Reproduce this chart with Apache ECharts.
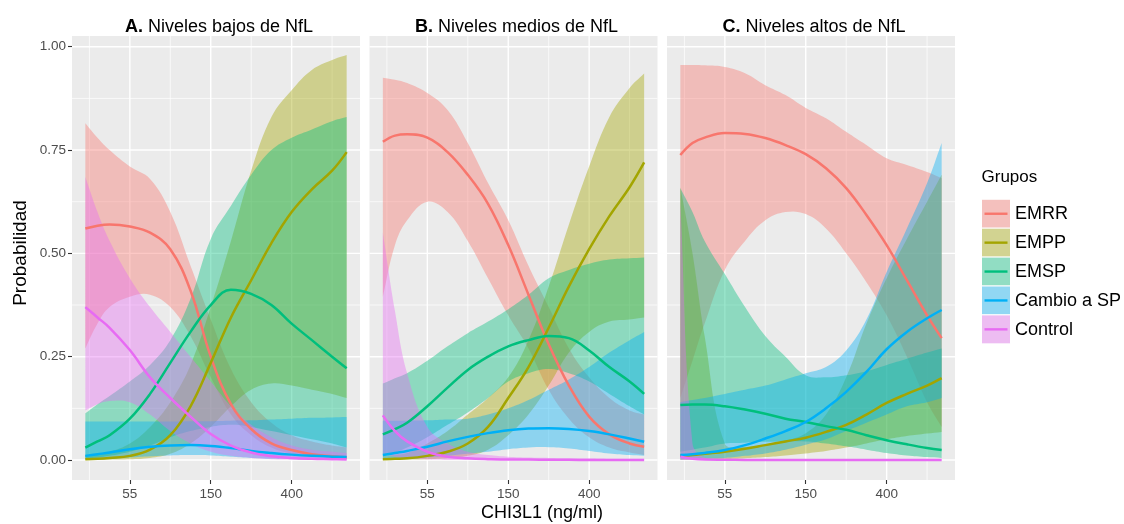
<!DOCTYPE html>
<html>
<head>
<meta charset="utf-8">
<script src="https://cdn.jsdelivr.net/npm/echarts@6/dist/echarts.min.js"></script>
<style>
  html, body { margin: 0; padding: 0; background: #ffffff; }
  #chart { width: 1124px; height: 524px; }
</style>
</head>
<body>
<div id="chart"></div>
<script>
// Natural log of CHI3L1 (ng/ml) where the fitted probabilities are evaluated
const logChi = [3.45, 3.6, 3.75, 4.0, 4.25, 4.5, 4.75, 5.0, 5.25, 5.5, 5.75, 6.0, 6.25, 6.5, 6.68];

// Axis ticks (x ticks sit at log values, labelled in ng/ml)
const xTickValues = [4, 5, 6];
const xTickLabels = ['55', '150', '400'];
const yTickValues = [0, 0.25, 0.5, 0.75, 1];

const groups = ['EMRR', 'EMPP', 'EMSP', 'Cambio a SP', 'Control'];
const groupColors = ['#F8766D', '#A3A500', '#00BF7D', '#00B0F6', '#E76BF3'];
const panelTitles = [['A.', 'Niveles bajos de NfL'], ['B.', 'Niveles medios de NfL'], ['C.', 'Niveles altos de NfL']];

// ---- A. low NfL: fitted probability, lower and upper band ----
const fitA_EMRR = [0.56, 0.567, 0.57, 0.565, 0.55, 0.51, 0.41, 0.25, 0.135, 0.075, 0.04, 0.024, 0.014, 0.009, 0.006];
const loA_EMRR  = [0.27, 0.33, 0.37, 0.395, 0.40, 0.37, 0.30, 0.20, 0.11, 0.06, 0.03, 0.015, 0.008, 0.004, 0.002];
const hiA_EMRR  = [0.815, 0.78, 0.75, 0.71, 0.68, 0.60, 0.47, 0.34, 0.22, 0.14, 0.09, 0.06, 0.045, 0.035, 0.03];
const fitA_EMPP = [0.002, 0.003, 0.005, 0.01, 0.025, 0.06, 0.13, 0.235, 0.345, 0.435, 0.525, 0.60, 0.655, 0.70, 0.745];
const loA_EMPP  = [0, 0, 0.001, 0.002, 0.005, 0.015, 0.04, 0.08, 0.13, 0.17, 0.185, 0.18, 0.17, 0.16, 0.15];
const hiA_EMPP  = [0.012, 0.014, 0.02, 0.04, 0.08, 0.14, 0.23, 0.37, 0.53, 0.70, 0.83, 0.895, 0.944, 0.968, 0.98];
const fitA_EMSP = [0.03, 0.045, 0.06, 0.10, 0.16, 0.235, 0.31, 0.375, 0.412, 0.402, 0.375, 0.33, 0.29, 0.25, 0.222];
const loA_EMSP  = [0.003, 0.006, 0.01, 0.02, 0.035, 0.055, 0.07, 0.08, 0.085, 0.08, 0.07, 0.06, 0.05, 0.04, 0.03];
const hiA_EMSP  = [0.113, 0.135, 0.155, 0.19, 0.23, 0.29, 0.39, 0.535, 0.615, 0.69, 0.75, 0.78, 0.80, 0.82, 0.83];
const fitA_SP   = [0.01, 0.014, 0.018, 0.026, 0.032, 0.035, 0.036, 0.034, 0.029, 0.022, 0.017, 0.013, 0.01, 0.008, 0.007];
const loA_SP    = [0.001, 0.002, 0.003, 0.006, 0.009, 0.011, 0.012, 0.011, 0.008, 0.005, 0.003, 0.002, 0.001, 0.001, 0.001];
const hiA_SP    = [0.093, 0.093, 0.093, 0.093, 0.093, 0.093, 0.094, 0.094, 0.095, 0.096, 0.098, 0.1, 0.102, 0.103, 0.104];
const fitA_Ctrl = [0.37, 0.345, 0.32, 0.266, 0.20, 0.15, 0.105, 0.063, 0.035, 0.018, 0.009, 0.005, 0.003, 0.002, 0.001];
const loA_Ctrl  = [0.12, 0.135, 0.143, 0.14, 0.11, 0.07, 0.04, 0.02, 0.01, 0.005, 0.002, 0.001, 0, 0, 0];
const hiA_Ctrl  = [0.685, 0.6, 0.53, 0.44, 0.37, 0.31, 0.25, 0.19, 0.13, 0.085, 0.055, 0.035, 0.025, 0.02, 0.017];

// ---- B. medium NfL ----
const fitB_EMRR = [0.77, 0.785, 0.788, 0.78, 0.745, 0.69, 0.62, 0.52, 0.40, 0.28, 0.18, 0.105, 0.062, 0.04, 0.032];
const loB_EMRR  = [0.395, 0.52, 0.58, 0.625, 0.60, 0.53, 0.44, 0.35, 0.27, 0.17, 0.10, 0.055, 0.03, 0.018, 0.012];
const hiB_EMRR  = [0.925, 0.92, 0.912, 0.888, 0.847, 0.767, 0.67, 0.58, 0.47, 0.37, 0.27, 0.2, 0.15, 0.12, 0.11];
const fitB_EMPP = [0.002, 0.003, 0.004, 0.01, 0.02, 0.04, 0.08, 0.15, 0.225, 0.32, 0.42, 0.51, 0.59, 0.66, 0.72];
const loB_EMPP  = [0, 0.001, 0.001, 0.002, 0.004, 0.01, 0.025, 0.06, 0.11, 0.18, 0.26, 0.31, 0.335, 0.34, 0.345];
const hiB_EMPP  = [0.01, 0.013, 0.017, 0.04, 0.07, 0.11, 0.15, 0.2, 0.29, 0.42, 0.57, 0.71, 0.83, 0.9, 0.935];
const fitB_EMSP = [0.062, 0.075, 0.09, 0.13, 0.175, 0.218, 0.25, 0.275, 0.29, 0.30, 0.295, 0.265, 0.225, 0.19, 0.16];
const loB_EMSP  = [0.01, 0.018, 0.03, 0.055, 0.085, 0.115, 0.15, 0.19, 0.21, 0.22, 0.21, 0.19, 0.16, 0.13, 0.11];
const hiB_EMSP  = [0.185, 0.198, 0.21, 0.24, 0.275, 0.307, 0.335, 0.365, 0.40, 0.44, 0.46, 0.475, 0.485, 0.488, 0.49];
const fitB_SP   = [0.012, 0.017, 0.022, 0.032, 0.045, 0.056, 0.065, 0.072, 0.076, 0.077, 0.075, 0.07, 0.062, 0.052, 0.044];
const loB_SP    = [0.001, 0.002, 0.003, 0.006, 0.01, 0.015, 0.02, 0.026, 0.03, 0.031, 0.028, 0.022, 0.016, 0.012, 0.01];
const hiB_SP    = [0.095, 0.095, 0.095, 0.096, 0.098, 0.1, 0.11, 0.125, 0.145, 0.17, 0.195, 0.225, 0.26, 0.29, 0.31];
const fitB_Ctrl = [0.108, 0.07, 0.045, 0.02, 0.008, 0.004, 0.002, 0.001, 0.001, 0.0005, 0.0003, 0.0002, 0.0001, 0.0001, 0.0001];
const loB_Ctrl  = [0.015, 0.008, 0.004, 0.001, 0, 0, 0, 0, 0, 0, 0, 0, 0, 0, 0];
const hiB_Ctrl  = [0.55, 0.36, 0.21, 0.08, 0.04, 0.02, 0.012, 0.008, 0.006, 0.005, 0.004, 0.004, 0.003, 0.003, 0.003];

// ---- C. high NfL ----
const fitC_EMRR = [0.738, 0.767, 0.78, 0.791, 0.789, 0.779, 0.762, 0.74, 0.706, 0.658, 0.593, 0.52, 0.435, 0.35, 0.295];
const loC_EMRR  = [0.15, 0.24, 0.33, 0.46, 0.53, 0.58, 0.6, 0.595, 0.56, 0.5, 0.43, 0.35, 0.25, 0.14, 0.08];
const hiC_EMRR  = [0.956, 0.956, 0.955, 0.951, 0.936, 0.907, 0.883, 0.852, 0.827, 0.794, 0.762, 0.73, 0.714, 0.697, 0.682];
const fitC_EMPP = [0.01, 0.012, 0.015, 0.02, 0.027, 0.036, 0.045, 0.054, 0.068, 0.085, 0.11, 0.138, 0.16, 0.18, 0.198];
const loC_EMPP  = [0, 0.001, 0.001, 0.002, 0.004, 0.007, 0.011, 0.016, 0.022, 0.03, 0.04, 0.05, 0.058, 0.064, 0.068];
const hiC_EMPP  = [0.66, 0.5, 0.3, 0.04, 0.032, 0.036, 0.047, 0.065, 0.11, 0.2, 0.33, 0.44, 0.535, 0.625, 0.69];
const fitC_EMSP = [0.133, 0.134, 0.134, 0.13, 0.122, 0.112, 0.1, 0.092, 0.082, 0.073, 0.06, 0.048, 0.038, 0.029, 0.024];
const loC_EMSP  = [0.02, 0.025, 0.03, 0.04, 0.042, 0.044, 0.045, 0.045, 0.04, 0.033, 0.025, 0.017, 0.011, 0.007, 0.005];
const hiC_EMSP  = [0.658, 0.6, 0.53, 0.45, 0.37, 0.3, 0.25, 0.205, 0.2, 0.205, 0.215, 0.23, 0.245, 0.26, 0.27];
const fitC_SP   = [0.012, 0.014, 0.017, 0.024, 0.036, 0.052, 0.07, 0.092, 0.125, 0.165, 0.213, 0.268, 0.31, 0.343, 0.363];
const loC_SP    = [0.001, 0.002, 0.003, 0.005, 0.01, 0.016, 0.025, 0.037, 0.05, 0.07, 0.09, 0.11, 0.13, 0.14, 0.15];
const hiC_SP    = [0.14, 0.145, 0.15, 0.16, 0.17, 0.18, 0.195, 0.21, 0.225, 0.265, 0.34, 0.455, 0.56, 0.67, 0.767];
const fitC_Ctrl = [0.008, 0.003, 0.001, 0.0005, 0.0002, 0.0001, 0.0001, 0.0001, 0.0001, 0.0001, 0.0001, 0.0001, 0.0001, 0.0001, 0.0001];
const loC_Ctrl  = [0, 0, 0, 0, 0, 0, 0, 0, 0, 0, 0, 0, 0, 0, 0];
const hiC_Ctrl  = [0.62, 0.04, 0.006, 0.002, 0.001, 0.001, 0.001, 0.001, 0.001, 0.001, 0.001, 0.001, 0.001, 0.001, 0.001];

// Background grid rules of each panel (major and minor)
const gridMajorX = [4, 5, 6];
const gridMinorX = [3.5, 4.5, 5.5, 6.5];
const gridMajorY = [0, 0.25, 0.5, 0.75, 1];
const gridMinorY = [0.125, 0.375, 0.625, 0.875];

const panels = [
  { fit: [fitA_EMRR, fitA_EMPP, fitA_EMSP, fitA_SP, fitA_Ctrl], lo: [loA_EMRR, loA_EMPP, loA_EMSP, loA_SP, loA_Ctrl], hi: [hiA_EMRR, hiA_EMPP, hiA_EMSP, hiA_SP, hiA_Ctrl] },
  { fit: [fitB_EMRR, fitB_EMPP, fitB_EMSP, fitB_SP, fitB_Ctrl], lo: [loB_EMRR, loB_EMPP, loB_EMSP, loB_SP, loB_Ctrl], hi: [hiB_EMRR, hiB_EMPP, hiB_EMSP, hiB_SP, hiB_Ctrl] },
  { fit: [fitC_EMRR, fitC_EMPP, fitC_EMSP, fitC_SP, fitC_Ctrl], lo: [loC_EMRR, loC_EMPP, loC_EMSP, loC_SP, loC_Ctrl], hi: [hiC_EMRR, hiC_EMPP, hiC_EMSP, hiC_SP, hiC_Ctrl] }
];

const FONT = 'Liberation Sans, Arial, Helvetica, sans-serif';
const panelLefts = [72, 369.5, 667];
const panelTop = 36, panelW = 288, panelH = 444;
const X_MIN = 3.285, X_MAX = 6.845, Y_MIN = -0.0484, Y_MAX = 1.026;
const SMOOTH = 0.4;

function hexToRgba(hex, a) {
  const n = parseInt(hex.slice(1), 16);
  return 'rgba(' + (n >> 16 & 255) + ',' + (n >> 8 & 255) + ',' + (n & 255) + ',' + a + ')';
}

// One polygon per band: upper edge left→right, lower edge right→left.
// End points are doubled so the smoothed outline keeps square ends.
function renderBand(color) {
  return (params, api) => {
    if (params.dataIndexInside !== 0) return null;
    const n = params.dataInsideLength;
    const upper = [], lower = [];
    for (let i = 0; i < n; i++) {
      upper.push(api.coord([api.value(0, i), api.value(2, i)]));
      lower.push(api.coord([api.value(0, i), api.value(1, i)]));
    }
    lower.reverse();
    const pts = [upper[0]].concat(upper, [upper[n - 1], lower[0]], lower, [lower[n - 1]]);
    return {
      type: 'polygon',
      shape: { points: pts, smooth: SMOOTH },
      style: { fill: hexToRgba(color, 0.4) }
    };
  };
}

const grids = [], xAxes = [], yAxes = [], series = [], titles = [];

panels.forEach((p, pi) => {
  grids.push({ left: panelLefts[pi], top: panelTop, width: panelW, height: panelH,
    show: true, backgroundColor: '#EBEBEB', borderWidth: 0 });

  xAxes.push({
    type: 'value', gridIndex: pi, min: X_MIN, max: X_MAX,
    axisLine: { show: false, onZero: false },
    splitLine: { show: false },
    axisTick: { show: true, customValues: xTickValues, length: 4, lineStyle: { color: '#333333', width: 1.1 } },
    axisLabel: {
      show: true, customValues: xTickValues, margin: 7, color: '#4D4D4D', fontSize: 13.5, fontFamily: FONT,
      formatter: v => xTickLabels[xTickValues.indexOf(v)]
    }
  });

  yAxes.push({
    type: 'value', gridIndex: pi, min: Y_MIN, max: Y_MAX,
    axisLine: { show: false, onZero: false },
    splitLine: { show: false },
    axisTick: { show: pi === 0, customValues: yTickValues, length: 4, lineStyle: { color: '#333333', width: 1.1 } },
    axisLabel: {
      show: pi === 0, customValues: yTickValues, margin: 6, color: '#4D4D4D', fontSize: 13.5, fontFamily: FONT,
      formatter: v => v.toFixed(2)
    }
  });

  // white grid rules behind the bands
  const rules = [];
  gridMinorX.forEach(v => rules.push([v, 0, 0.7]));
  gridMinorY.forEach(v => rules.push([v, 1, 0.7]));
  gridMajorX.forEach(v => rules.push([v, 0, 1.4]));
  gridMajorY.forEach(v => rules.push([v, 1, 1.4]));
  series.push({
    type: 'custom', xAxisIndex: pi, yAxisIndex: pi, silent: true, z: 1, animation: false,
    data: rules,
    encode: { x: -1, y: -1 },
    renderItem: (params, api) => {
      const cs = params.coordSys;
      const v = api.value(0), isY = api.value(1) === 1, w = api.value(2);
      if (isY) {
        const py = api.coord([5, v])[1];
        return { type: 'line', shape: { x1: cs.x, y1: py, x2: cs.x + cs.width, y2: py }, style: { stroke: '#FFFFFF', lineWidth: w } };
      }
      const px = api.coord([v, 0.5])[0];
      return { type: 'line', shape: { x1: px, y1: cs.y, x2: px, y2: cs.y + cs.height }, style: { stroke: '#FFFFFF', lineWidth: w } };
    }
  });

  // confidence bands
  groups.forEach((g, gi) => {
    series.push({
      type: 'custom', name: g + ' IC', xAxisIndex: pi, yAxisIndex: pi, silent: true, z: 2, animation: false,
      data: logChi.map((x, i) => [x, p.lo[gi][i], p.hi[gi][i]]),
      encode: { x: 0, y: [1, 2] },
      renderItem: renderBand(groupColors[gi])
    });
  });

  // fitted probability curves
  groups.forEach((g, gi) => {
    series.push({
      type: 'line', name: g, xAxisIndex: pi, yAxisIndex: pi,
      data: logChi.map((x, i) => [x, p.fit[gi][i]]),
      symbol: 'none', smooth: SMOOTH, silent: true, z: 3, animation: false,
      lineStyle: { color: groupColors[gi], width: 2.5 }
    });
  });

  titles.push({
    text: '{b|' + panelTitles[pi][0] + '} ' + panelTitles[pi][1],
    left: panelLefts[pi] + panelW / 2 - 2, top: 13, textAlign: 'center',
    textStyle: { fontSize: 18, fontWeight: 'normal', color: '#000000', fontFamily: FONT,
      rich: { b: { fontSize: 18, fontWeight: 'bold', color: '#000000', fontFamily: FONT } } }
  });
});

// legend drawn as ggplot-style keys
const legendItems = [];
const keyX = 981.5, keyTop = 199.3, keyStep = 28.9, keyW = 29, keyH = 28.9;
legendItems.push({ type: 'text', x: keyX, y: 177, style: { text: 'Grupos', fontSize: 17, fontFamily: FONT, fill: '#000000', textVerticalAlign: 'middle' } });
groups.forEach((g, gi) => {
  const y0 = keyTop + gi * keyStep;
  legendItems.push({ type: 'rect', shape: { x: keyX, y: y0, width: keyW, height: keyH }, style: { fill: '#F2F2F2', stroke: '#FFFFFF', lineWidth: 1 } });
  legendItems.push({ type: 'rect', shape: { x: keyX + 0.5, y: y0 + 0.5, width: keyW - 1, height: keyH - 1 }, style: { fill: hexToRgba(groupColors[gi], 0.4) } });
  legendItems.push({ type: 'line', shape: { x1: keyX + 3, y1: y0 + keyH / 2, x2: keyX + keyW - 3, y2: y0 + keyH / 2 }, style: { stroke: groupColors[gi], lineWidth: 2.4 } });
  legendItems.push({ type: 'text', x: 1015, y: y0 + keyH / 2 + 0.5, style: { text: g, fontSize: 18, fontFamily: FONT, fill: '#000000', textVerticalAlign: 'middle' } });
});

// axis titles
legendItems.push({ type: 'text', x: 542, y: 513, style: { text: 'CHI3L1 (ng/ml)', fontSize: 18, fontFamily: FONT, fill: '#000000', textAlign: 'center', textVerticalAlign: 'middle' } });
legendItems.push({ type: 'text', x: 21, y: 253, rotation: Math.PI / 2, style: { text: 'Probabilidad', fontSize: 19, fontFamily: FONT, fill: '#000000', textAlign: 'center', textVerticalAlign: 'middle' } });

const chart = echarts.init(document.getElementById('chart'), null, { renderer: 'canvas' });
chart.setOption({
  backgroundColor: '#FFFFFF',
  animation: false,
  title: titles,
  grid: grids,
  xAxis: xAxes,
  yAxis: yAxes,
  series: series,
  graphic: legendItems
});
</script>
</body>
</html>
